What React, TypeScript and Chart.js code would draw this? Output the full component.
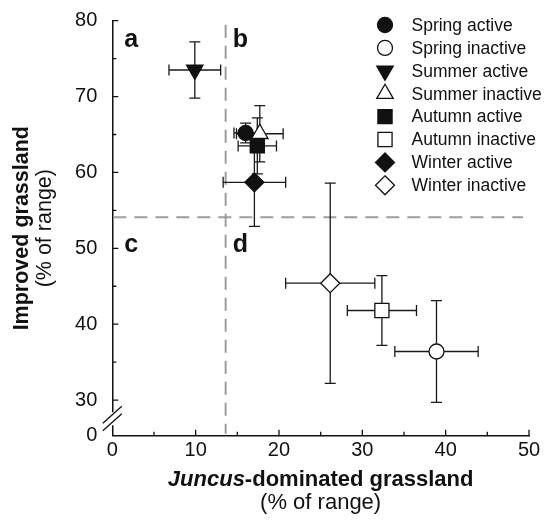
import React, { useEffect, useRef } from 'react';
import { Chart, registerables } from 'chart.js';

Chart.register(...registerables);

// ---- data ----
const seriesNames = [
  'Spring active',
  'Spring inactive',
  'Summer active',
  'Summer inactive',
  'Autumn active',
  'Autumn inactive',
  'Winter active',
  'Winter inactive',
];
const xMeans = [16.0, 38.9, 9.9, 17.7, 17.4, 32.35, 17.05, 26.15];
const yMeans = [65.2, 36.4, 73.5, 65.1, 63.5, 41.8, 58.7, 45.4];
const xErrors = [1.4, 5.0, 3.1, 2.8, 2.3, 4.15, 3.75, 5.35];
const yErrors = [1.3, 6.7, 3.7, 3.7, 3.7, 4.6, 5.8, 13.2];
const pointStyles = ['circle', 'circle', 'triangle', 'triangle', 'rect', 'rect', 'rectRot', 'rectRot'];
const pointRotations = [0, 0, 180, 0, 0, 0, 0, 0];
const filledMarkers = [true, false, true, false, true, false, true, false];

const xTickValues = [0, 5, 10, 15, 20, 25, 30, 35, 40, 45, 50];
const xLabelValues = [0, 10, 20, 30, 40, 50];
const yTickValues = [30, 35, 40, 45, 50, 55, 60, 65, 70, 75, 80];
const yLabelValues = [30, 40, 50, 60, 70, 80];
const yAxisOrigin = 25.3; // broken axis: bottom of axis is labelled "0"
const yAxisOriginLabel = '0';
const yBreakValue = 27.6;
const xThreshold = 13.6;
const yThreshold = 54.1;
const quadrantLetters = ['a', 'b', 'c', 'd'];
const xTitleItalic = 'Juncus';
const xTitleRest = '-dominated grassland';
const yTitle = 'Improved grassland';
const unitsTitle = '(% of range)';

const FONT = "'Liberation Sans', Arial, sans-serif";
const INK = '#111111';
const markerRadius: Record<string, number> = { circle: 7.5, triangle: 9.5, rect: 10, rectRot: 9.5 };

function drawMarker(ctx: CanvasRenderingContext2D, style: string, x: number, y: number, rotDeg: number, fill: boolean) {
  const r = markerRadius[style];
  ctx.beginPath();
  if (style === 'circle') {
    ctx.arc(x, y, r, 0, Math.PI * 2);
  } else if (style === 'triangle') {
    let a = (rotDeg * Math.PI) / 180;
    ctx.moveTo(x + Math.sin(a) * r, y - Math.cos(a) * r);
    a += (2 * Math.PI) / 3;
    ctx.lineTo(x + Math.sin(a) * r, y - Math.cos(a) * r);
    a += (2 * Math.PI) / 3;
    ctx.lineTo(x + Math.sin(a) * r, y - Math.cos(a) * r);
    ctx.closePath();
  } else if (style === 'rect') {
    const s = r * Math.SQRT1_2;
    ctx.rect(x - s, y - s, 2 * s, 2 * s);
  } else {
    ctx.moveTo(x, y - r);
    ctx.lineTo(x + r, y);
    ctx.lineTo(x, y + r);
    ctx.lineTo(x - r, y);
    ctx.closePath();
  }
  ctx.fillStyle = fill ? INK : '#ffffff';
  ctx.fill();
  ctx.strokeStyle = INK;
  ctx.lineWidth = 1.3;
  ctx.stroke();
}

const decorPlugin = {
  id: 'decor',
  beforeDatasetsDraw(chart: any) {
    const ctx: CanvasRenderingContext2D = chart.ctx;
    const xs = chart.scales.x;
    const ys = chart.scales.y;
    const ca = chart.chartArea;
    const tx = xs.getPixelForValue(xThreshold);
    const ty = ys.getPixelForValue(yThreshold);

    // threshold dashed lines
    ctx.save();
    ctx.strokeStyle = '#9d9d9d';
    ctx.lineWidth = 2;
    ctx.setLineDash([13, 8]);
    ctx.beginPath();
    ctx.moveTo(tx, ca.top + 4);
    ctx.lineTo(tx, ca.bottom - 2);
    ctx.stroke();
    ctx.beginPath();
    ctx.moveTo(ca.left + 1, ty);
    ctx.lineTo(ca.right - 6, ty);
    ctx.stroke();
    ctx.restore();

    // quadrant letters
    ctx.save();
    ctx.fillStyle = INK;
    ctx.font = `bold 25px ${FONT}`;
    ctx.textAlign = 'left';
    ctx.textBaseline = 'alphabetic';
    ctx.fillText(quadrantLetters[0], ca.left + 12, ca.top + 26);
    ctx.fillText(quadrantLetters[1], tx + 7, ca.top + 26);
    ctx.fillText(quadrantLetters[2], ca.left + 12, ty + 35);
    ctx.fillText(quadrantLetters[3], tx + 7, ty + 35);
    ctx.restore();

    // error bars
    ctx.save();
    ctx.strokeStyle = '#1a1a1a';
    ctx.lineWidth = 1.3;
    const cap = 5.5;
    for (let i = 0; i < seriesNames.length; i++) {
      const cx = xs.getPixelForValue(xMeans[i]);
      const cy = ys.getPixelForValue(yMeans[i]);
      const x1 = xs.getPixelForValue(xMeans[i] - xErrors[i]);
      const x2 = xs.getPixelForValue(xMeans[i] + xErrors[i]);
      const y1 = ys.getPixelForValue(yMeans[i] + yErrors[i]);
      const y2 = ys.getPixelForValue(yMeans[i] - yErrors[i]);
      ctx.beginPath();
      ctx.moveTo(x1, cy);
      ctx.lineTo(x2, cy);
      ctx.moveTo(x1, cy - cap);
      ctx.lineTo(x1, cy + cap);
      ctx.moveTo(x2, cy - cap);
      ctx.lineTo(x2, cy + cap);
      ctx.moveTo(cx, y1);
      ctx.lineTo(cx, y2);
      ctx.moveTo(cx - cap, y1);
      ctx.lineTo(cx + cap, y1);
      ctx.moveTo(cx - cap, y2);
      ctx.lineTo(cx + cap, y2);
      ctx.stroke();
    }
    ctx.restore();
  },
  afterDraw(chart: any) {
    const ctx: CanvasRenderingContext2D = chart.ctx;
    const xs = chart.scales.x;
    const ys = chart.scales.y;
    const ca = chart.chartArea;

    // inward tick marks
    ctx.save();
    ctx.strokeStyle = INK;
    ctx.lineWidth = 1.3;
    ctx.beginPath();
    xTickValues.forEach((v) => {
      const p = xs.getPixelForValue(v);
      const len = xLabelValues.includes(v) ? 6 : 4;
      if (v === 0) return;
      ctx.moveTo(p, ca.bottom);
      ctx.lineTo(p, ca.bottom - len);
    });
    yTickValues.forEach((v) => {
      const p = ys.getPixelForValue(v);
      const len = yLabelValues.includes(v) ? 6 : 4;
      ctx.moveTo(ca.left, p);
      ctx.lineTo(ca.left + len, p);
    });
    ctx.stroke();

    // axis break
    const bp = ys.getPixelForValue(yBreakValue);
    ctx.fillStyle = '#ffffff';
    ctx.fillRect(ca.left - 3, bp - 6, 6, 13);
    ctx.beginPath();
    ctx.moveTo(ca.left - 9.5, bp + 5);
    ctx.lineTo(ca.left + 9.5, bp - 12);
    ctx.moveTo(ca.left - 9.5, bp + 12.5);
    ctx.lineTo(ca.left + 9.5, bp - 4.5);
    ctx.stroke();
    ctx.restore();

    // axis titles
    ctx.save();
    ctx.fillStyle = INK;
    ctx.textBaseline = 'middle';
    const midX = (ca.left + ca.right) / 2;
    ctx.font = `italic bold 22px ${FONT}`;
    const w1 = ctx.measureText(xTitleItalic).width;
    ctx.font = `bold 22px ${FONT}`;
    const w2 = ctx.measureText(xTitleRest).width;
    const startX = midX - (w1 + w2) / 2;
    ctx.textAlign = 'left';
    ctx.font = `italic bold 22px ${FONT}`;
    ctx.fillText(xTitleItalic, startX, 480);
    ctx.font = `bold 22px ${FONT}`;
    ctx.fillText(xTitleRest, startX + w1, 480);
    ctx.font = `22px ${FONT}`;
    ctx.textAlign = 'center';
    ctx.fillText(unitsTitle, midX, 503);

    const midY = (ca.top + ca.bottom) / 2;
    ctx.save();
    ctx.translate(22, midY);
    ctx.rotate(-Math.PI / 2);
    ctx.font = `bold 21.5px ${FONT}`;
    ctx.fillText(yTitle, 0, 0);
    ctx.restore();
    ctx.save();
    ctx.translate(45, midY);
    ctx.rotate(-Math.PI / 2);
    ctx.font = `21.5px ${FONT}`;
    ctx.fillText(unitsTitle, 0, 0);
    ctx.restore();
    ctx.restore();

    // legend
    ctx.save();
    ctx.font = `17.5px ${FONT}`;
    ctx.textAlign = 'left';
    ctx.textBaseline = 'middle';
    seriesNames.forEach((name, i) => {
      const ry = 25 + i * 22.9;
      drawMarker(ctx, pointStyles[i], 385, ry, pointRotations[i], filledMarkers[i]);
      ctx.fillStyle = INK;
      ctx.fillText(name, 411.5, ry + 1);
    });
    ctx.restore();
  },
};

export default function App() {
  const canvasRef = useRef<HTMLCanvasElement | null>(null);

  useEffect(() => {
    const canvas = canvasRef.current;
    if (!canvas) return;
    const datasets = seriesNames.map((name, i) => ({
      label: name,
      data: [{ x: xMeans[i], y: yMeans[i] }],
      pointStyle: pointStyles[i],
      pointRotation: pointRotations[i],
      pointRadius: markerRadius[pointStyles[i]],
      pointBackgroundColor: filledMarkers[i] ? INK : '#ffffff',
      pointBorderColor: INK,
      pointBorderWidth: 1.3,
      showLine: false,
      order: seriesNames.length - i,
    }));

    const chart = new Chart(canvas, {
      type: 'scatter',
      data: { datasets },
      options: {
        animation: false,
        responsive: false,
        maintainAspectRatio: false,
        layout: { padding: { top: 20.7, right: 18, bottom: 0, left: 0 } },
        plugins: { legend: { display: false }, tooltip: { enabled: false } },
        scales: {
          x: {
            type: 'linear',
            position: 'bottom',
            min: 0,
            max: 50,
            afterBuildTicks: (scale: any) => {
              scale.ticks = xTickValues.map((v) => ({ value: v }));
            },
            afterFit: (scale: any) => {
              scale.height = 520 - 435.7;
              scale.paddingLeft = 0;
              scale.paddingRight = 0;
            },
            ticks: {
              autoSkip: false,
              maxRotation: 0,
              padding: 3,
              color: INK,
              font: { family: FONT, size: 20 },
              callback: (v: any) => (xLabelValues.includes(Number(v)) ? String(v) : ''),
            },
            grid: { display: false, drawTicks: false },
            border: { display: true, color: INK, width: 1.5 },
          },
          y: {
            type: 'linear',
            position: 'left',
            min: yAxisOrigin,
            max: 80,
            afterBuildTicks: (scale: any) => {
              scale.ticks = [yAxisOrigin, ...yTickValues].map((v) => ({ value: v }));
            },
            afterFit: (scale: any) => {
              scale.width = 112.3;
              scale.paddingTop = 0;
              scale.paddingBottom = 0;
            },
            ticks: {
              autoSkip: false,
              padding: 15,
              color: INK,
              font: { family: FONT, size: 20 },
              callback: (v: any) => {
                const n = Number(v);
                if (n === yAxisOrigin) return yAxisOriginLabel;
                return yLabelValues.includes(n) ? String(n) : '';
              },
            },
            grid: { display: false, drawTicks: false },
            border: { display: true, color: INK, width: 1.5 },
          },
        },
      },
      plugins: [decorPlugin],
    });
    return () => chart.destroy();
  }, []);

  return (
    <div style={{ position: 'absolute', left: 0, top: 0, width: 547, height: 520, background: '#fff' }}>
      <canvas ref={canvasRef} width={547} height={520} />
    </div>
  );
}
